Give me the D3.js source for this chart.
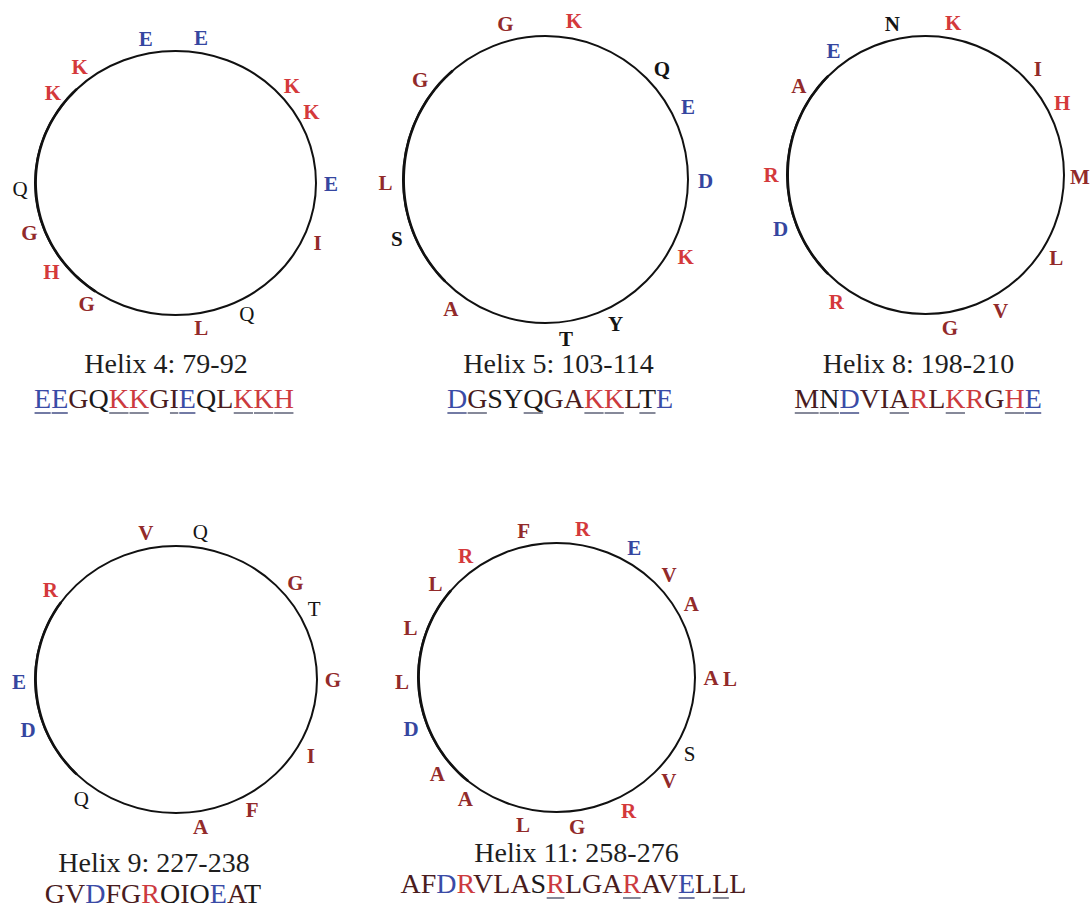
<!DOCTYPE html>
<html>
<head>
<meta charset="utf-8">
<script src="https://cdn.jsdelivr.net/npm/d3@7"></script>
<style>
  html, body { margin: 0; padding: 0; background: #fff; }
  svg { display: block; }
</style>
</head>
<body>
<svg id="chart" width="1091" height="903"></svg>
<script>
// Helical wheel projections for five helices.
// Residues in sequence order, the wheel angle (degrees, clockwise from top)
// at which each residue sits, and the residues underlined in the sequence.

const helixTitles = [
  "Helix 4: 79-92",
  "Helix 5: 103-114",
  "Helix 8: 198-210",
  "Helix 9: 227-238",
  "Helix 11: 258-276"
];

const helix4Residues = ["E","E","G","Q","K","K","G","I","E","Q","L","K","K","H"];
const helix4Angles   = [90.5, 349, 250, 152.7, 48.5, 307.9, 214.8, 114, 9.4, 267.9, 170.5, 61, 322, 232.9];
const helix4Under    = [1,1,0,0,1,1,0,1,1,0,0,1,1,1];

const helix5Residues = ["D","G","S","Y","Q","G","A","K","K","L","T","E"];
const helix5Angles   = [90.5, 345.5, 248.3, 154, 46.7, 308.4, 216.3, 118.9, 10.2, 268.9, 172.6, 63];
const helix5Under    = [1,1,0,0,1,0,0,1,1,0,1,0];

const helix8Residues = ["M","N","D","V","I","A","R","L","K","R","G","H","E"];
const helix8Angles   = [90.6, 347.6, 249.7, 150.9, 46.7, 305, 215.2, 122.1, 10.3, 270, 170.9, 62.3, 323.4];
const helix8Under    = [1,1,1,0,0,1,0,0,1,0,0,1,1];

const helix9Residues = ["G","V","D","F","G","R","Q","I","Q","E","A","T"];
const helix9Angles   = [90.3, 348.9, 250.4, 151, 49.5, 306.9, 217.1, 120.8, 8.9, 269.1, 171, 61.7];
const helix9Under    = [0,0,0,0,0,0,0,0,0,0,0,0];

const helix11Residues = ["A","F","D","R","V","L","A","S","R","L","G","A","R","A","V","E","L","L","L"];
const helix11Angles   = [90.3, 347.7, 250.2, 152.2, 46.8, 308.5, 216.2, 120.6, 9.7, 268.4, 172.3, 60.8, 324, 230.4, 133.3, 30.2, 289.2, 192.5, 90.3];
const helix11Under    = [0,0,0,0,0,0,0,0,1,0,0,0,1,0,0,1,0,1,0];

// residue classes
const residueClass = {
  K: "basic", R: "basic", H: "basic",
  D: "acidic", E: "acidic",
  A: "apolar", V: "apolar", L: "apolar", I: "apolar", F: "apolar",
  M: "apolar", G: "apolar", W: "apolar", P: "apolar",
  Q: "polar", N: "polar", S: "polar", T: "polar", Y: "polar", C: "polar"
};

const wheelColor = { basic: "#d4393b", acidic: "#3546a0", apolar: "#922a2a", polar: "#141414" };
const seqColor   = { basic: "#cc3a3e", acidic: "#3a4ba6", apolar: "#4a1c1e", polar: "#1a1a1a" };

// page layout of each wheel
const layout = [
  { cx: 175.5, cy: 183,   rx: 140.5, ry: 132,   off: 15, polarBold: false, thick: [215, 315], titleX: 166,   titleY: 373,   seqX: 164,   seqY: 408 },
  { cx: 545.5, cy: 179.5, rx: 142.5, ry: 143.5, off: 17.5, polarBold: true,  thick: [225, 320], titleX: 558.5, titleY: 373,   seqX: 560,   seqY: 408 },
  { cx: 925.5, cy: 175,   rx: 138.5, ry: 139,   off: 16, polarBold: true,  thick: [225, 315], titleX: 918.5, titleY: 372.5, seqX: 918,   seqY: 408 },
  { cx: 176,   cy: 679.5, rx: 141,   ry: 133.5, off: 16, polarBold: false, thick: [225, 305], titleX: 154,   titleY: 871.5, seqX: 153,   seqY: 903 },
  { cx: 556.5, cy: 677.5, rx: 138.5, ry: 134.5, off: 16, polarBold: false, thick: [220, 310], titleX: 576.5, titleY: 861.5, seqX: 573.5, seqY: 893 }
];

const helices = [
  { residues: helix4Residues,  angles: helix4Angles,  under: helix4Under },
  { residues: helix5Residues,  angles: helix5Angles,  under: helix5Under },
  { residues: helix8Residues,  angles: helix8Angles,  under: helix8Under },
  { residues: helix9Residues,  angles: helix9Angles,  under: helix9Under },
  { residues: helix11Residues, angles: helix11Angles, under: helix11Under }
].map((h, i) => Object.assign({ title: helixTitles[i] }, h, layout[i]));

const svg = d3.select("#chart");
svg.append("rect").attr("width", 1091).attr("height", 903).attr("fill", "#fff");

const serif = "'Liberation Serif', 'Times New Roman', Times, serif";
const toRad = d3.scaleLinear().domain([0, 360]).range([0, 2 * Math.PI]);

helices.forEach(h => {
  const g = svg.append("g");

  // point on the wheel outline (or pushed outward by `extra` px)
  const pt = (deg, extra) => {
    const t = toRad(deg);
    return [h.cx + (h.rx + extra) * Math.sin(t), h.cy - (h.ry + extra) * Math.cos(t)];
  };

  // wheel outline
  g.append("ellipse")
    .attr("cx", h.cx).attr("cy", h.cy)
    .attr("rx", h.rx).attr("ry", h.ry)
    .attr("fill", "none").attr("stroke", "#111").attr("stroke-width", 2);

  // heavier stroke along the left side of the wheel
  const arcDeg = d3.range(h.thick[0], h.thick[1] + 0.5, 2);
  const taper = d3.scaleLinear().domain([h.thick[0], (h.thick[0] + h.thick[1]) / 2, h.thick[1]]).range([0, 1, 0]);
  g.append("path")
    .attr("d", d3.line().curve(d3.curveCatmullRom)(arcDeg.map(d => pt(d, -0.7 * taper(d)))))
    .attr("fill", "none").attr("stroke", "#111").attr("stroke-width", 2.6).attr("stroke-linecap", "round");

  // residue letters around the wheel; later residues falling on an occupied
  // spot are stacked further out
  const placed = [];
  h.residues.forEach((res, i) => {
    const deg = h.angles[i];
    let extra = h.off;
    placed.forEach(p => {
      let d = Math.abs(p - deg) % 360;
      if (d > 180) d = 360 - d;
      if (d < 6) extra += 19;
    });
    placed.push(deg);
    const cls = residueClass[res];
    const [x, y] = pt(deg, extra);
    g.append("text")
      .attr("x", x).attr("y", y).attr("dy", "0.34em")
      .attr("text-anchor", "middle")
      .attr("font-family", serif)
      .attr("font-size", 21)
      .attr("font-weight", cls === "polar" && !h.polarBold ? "normal" : "bold")
      .attr("fill", wheelColor[cls])
      .text(res);
  });

  // title
  g.append("text")
    .attr("x", h.titleX).attr("y", h.titleY)
    .attr("text-anchor", "middle")
    .attr("font-family", serif).attr("font-size", 28)
    .attr("fill", "#1e1e1e")
    .text(h.title);

  // coloured sequence line
  const seq = g.append("text")
    .attr("x", h.seqX).attr("y", h.seqY)
    .attr("text-anchor", "middle")
    .attr("font-family", serif).attr("font-size", 28);
  seq.selectAll("tspan")
    .data(h.residues)
    .join("tspan")
    .attr("fill", d => seqColor[residueClass[d]])
    .text(d => d);

  // underlines beneath marked residues
  const node = seq.node();
  h.residues.forEach((res, i) => {
    if (!h.under[i]) return;
    const x0 = node.getStartPositionOfChar(i).x;
    const x1 = node.getEndPositionOfChar(i).x;
    g.append("line")
      .attr("x1", x0 + 0.5).attr("x2", x1 - 0.5)
      .attr("y1", h.seqY + 5).attr("y2", h.seqY + 5)
      .attr("stroke", residueClass[res] === "acidic" ? "#2e3a78" : "#4b5068")
      .attr("stroke-opacity", 0.85)
      .attr("stroke-width", 1.6);
  });
});
</script>
</body>
</html>
